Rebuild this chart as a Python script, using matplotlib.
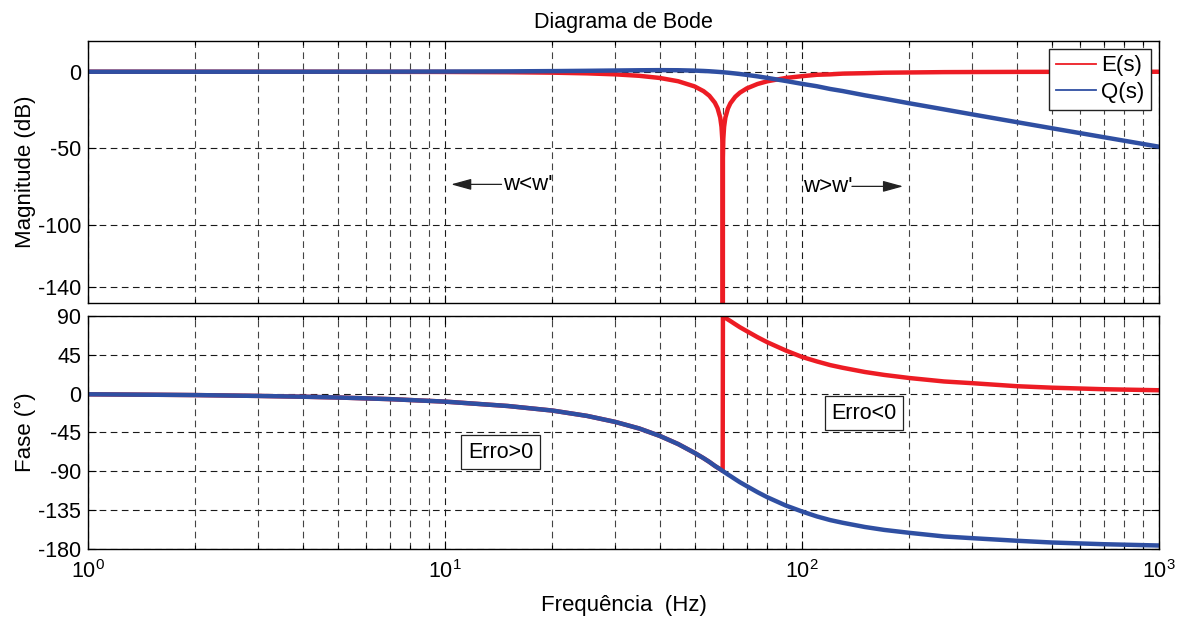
import matplotlib
matplotlib.use('Agg')
import matplotlib.pyplot as plt
from matplotlib.lines import Line2D
from matplotlib.ticker import LogLocator, NullFormatter

plt.rcParams['font.family'] = ['Liberation Sans', 'DejaVu Sans']
plt.rcParams['mathtext.fontset'] = 'custom'
plt.rcParams['mathtext.rm'] = 'Liberation Sans'
plt.rcParams['mathtext.default'] = 'regular'
plt.rcParams['axes.unicode_minus'] = False
plt.rcParams['font.size'] = 15.5

# Frequencias (Hz)
freq = [1, 1.5, 2, 3, 4, 5, 7, 10, 15, 20, 25, 30, 35, 40, 45, 50,
        53, 55, 57, 58, 59, 59.5, 59.8, 59.95, 60, 60.05, 60.2, 60.5, 61, 62, 63, 65,
        67, 70, 75, 80, 90, 100, 110, 120, 130, 150, 170, 200, 250, 300, 400, 500, 700, 1000]

# Magnitude (dB) de E(s) e Q(s)
mag_e = [0.0, 0.0, -0.01, -0.01, -0.02, -0.03, -0.07, -0.14, -0.32, -0.61, -1.06, -1.71, -2.66, -4.08, -6.21, -9.56,
         -12.67, -15.64, -20.16, -23.73, -29.81, -35.87, -43.84, -55.88, -300.0, -55.9, -43.87, -35.94, -29.96, -24.02, -20.59, -16.35,
         -13.64, -10.90, -8.02, -6.21, -4.08, -2.90, -1.99, -1.71, -1.24, -0.95, -0.63, -0.48, -0.26, -0.20, -0.11, -0.07, -0.04, -0.02]
mag_q = [0.0, 0.0, 0.0, 0.0, 0.01, 0.02, 0.05, 0.11, 0.24, 0.41, 0.60, 0.79, 0.95, 1.03, 0.97, 0.73,
         0.50, 0.30, 0.06, -0.07, -0.20, -0.27, -0.31, -0.33, -0.34, -0.35, -0.37, -0.41, -0.49, -0.64, -0.80, -1.14,
         -1.49, -2.05, -3.02, -4.03, -6.02, -7.90, -9.45, -11.25, -12.59, -15.36, -17.57, -20.58, -24.54, -27.80, -32.87, -36.78, -42.65, -48.86]

# Fase (graus)
fase_e = [-0.9, -1.4, -1.8, -2.8, -3.7, -4.6, -6.5, -9.4, -14.5, -19.8, -26.0, -33.0, -40.6, -49.3, -58.7, -68.9,
          -75.1, -79.4, -84.0, -86.0, -88.0, -89.0, -89.6, -89.9, 0.0, 89.9, 89.6, 89.0, 88.0, 86.0, 84.2, 80.5,
          77.0, 72.5, 65.5, 59.5, 50.0, 42.5, 37.3, 33.0, 29.9, 25.0, 21.6, 18.0, 14.0, 12.0, 8.5, 6.8, 5.0, 3.8]
fase_q = [-0.9, -1.4, -1.8, -2.8, -3.7, -4.6, -6.5, -9.4, -14.5, -19.8, -26.0, -33.0, -40.6, -49.3, -58.7, -68.9,
          -75.1, -79.4, -84.0, -86.0, -88.0, -89.0, -89.6, -89.9, -90.0, -90.1, -90.4, -91.0, -92.0, -94.0, -95.8, -99.5,
          -103.0, -107.5, -114.5, -120.5, -130.0, -137.0, -142.7, -147.0, -150.1, -155.0, -158.4, -161.8, -166.0, -168.0, -171.0, -173.0, -175.0, -176.5]

mag_ticks = [-140, -100, -50, 0]
fase_ticks = [-180, -135, -90, -45, 0, 45, 90]

vermelho = '#ed1c24'
azul = '#2f4fa2'
tracejado = (0, (6, 4))

fig = plt.figure(figsize=(11.83, 6.17), dpi=100)
ax1 = fig.add_axes([0.0744, 0.5089, 0.9053, 0.4246])
ax2 = fig.add_axes([0.0744, 0.111, 0.9053, 0.3768])

ax1.semilogx(freq, mag_e, color=vermelho, lw=3.2)
ax1.semilogx(freq, mag_q, color=azul, lw=3.2)
ax2.semilogx(freq, fase_e, color=vermelho, lw=3.2)
ax2.semilogx(freq, fase_q, color=azul, lw=3.2)

ax1.set_ylim(-150.7, 20)
ax2.set_ylim(-180, 90)
ax1.set_yticks(mag_ticks)
ax2.set_yticks(fase_ticks)

for ax in (ax1, ax2):
    ax.set_xlim(1, 1000)
    ax.xaxis.set_major_locator(LogLocator(base=10, numticks=10))
    ax.xaxis.set_minor_locator(LogLocator(base=10, subs=range(2, 10), numticks=100))
    ax.xaxis.set_minor_formatter(NullFormatter())
    ax.tick_params(which='both', direction='in', top=True, right=True, width=0.8)
    ax.tick_params(which='major', length=6)
    ax.tick_params(which='minor', length=3)
    ax.tick_params(axis='x', which='major', pad=8)
    ax.tick_params(axis='y', which='major', pad=5)
    ax.grid(True, which='major', ls=tracejado, color='#1a1a1a', lw=0.8)
    ax.grid(True, which='minor', axis='x', ls=tracejado, color='#444444', lw=0.8)
    for s in ax.spines.values():
        s.set_linewidth(1.0)
    ax.set_axisbelow(True)

ax1.tick_params(labelbottom=False)

ax1.set_title('Diagrama de Bode', fontsize=15.5, pad=9.5)
ax1.set_ylabel('Magnitude (dB)', fontsize=16)
ax2.set_ylabel('Fase (°)', fontsize=16)
ax2.set_xlabel('Frequência  (Hz)', fontsize=16, labelpad=9)
ax1.yaxis.set_label_coords(-0.049, 0.5)
ax2.yaxis.set_label_coords(-0.049, 0.5)

# legenda com linhas finas
handles = [Line2D([0], [0], color=vermelho, lw=1.3, label='E(s)'),
           Line2D([0], [0], color=azul, lw=1.3, label='Q(s)')]
leg = ax1.legend(handles=handles, loc='upper right', fancybox=False, edgecolor='#222222',
                 framealpha=1, borderaxespad=0.35, handlelength=1.8, handletextpad=0.25,
                 borderpad=0.3, labelspacing=0.25, fontsize=16)
leg.get_frame().set_linewidth(1.0)

# setas w<w' e w>w'
seta = dict(arrowstyle='-|>,head_length=0.8,head_width=0.22', color='#222222', lw=0.9,
            shrinkA=0, shrinkB=0)
ax1.annotate('', xy=(10.4, -73.4), xytext=(14.4, -73.4), arrowprops=seta)
ax1.text(14.5, -73.4, "w<w'", ha='left', va='center', fontsize=16)
ax1.text(100.5, -74.7, "w>w'", ha='left', va='center', fontsize=16)
ax1.annotate('', xy=(192, -74.7), xytext=(138, -74.7), arrowprops=seta)

caixa = dict(boxstyle='square,pad=0.3', fc='white', ec='#222222', lw=0.9)
ax2.text(14.3, -68, 'Erro>0', ha='center', va='center', fontsize=15.5, bbox=caixa)
ax2.text(149, -23, 'Erro<0', ha='center', va='center', fontsize=15.5, bbox=caixa)

plt.savefig('out.png', dpi=100)
